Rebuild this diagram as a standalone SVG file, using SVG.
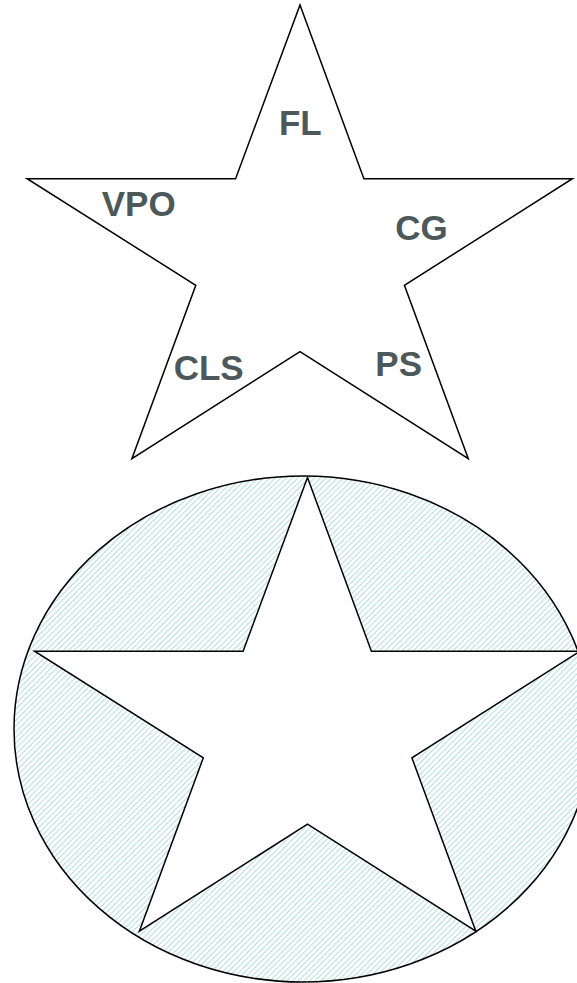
<svg xmlns="http://www.w3.org/2000/svg" width="577" height="983" viewBox="0 0 577 983">
<style>
.star{fill:#ffffff;stroke:#000000;stroke-width:1.5;stroke-linejoin:miter}
.lbl{font-family:"Liberation Sans",Arial,sans-serif;font-weight:bold;font-size:35px;fill:#4d585b;text-anchor:middle}
</style>
<defs>
<pattern id="hatch" patternUnits="userSpaceOnUse" width="4" height="4" patternTransform="rotate(45)">
<rect width="4" height="4" fill="#ffffff"/>
<line x1="0" y1="0" x2="0" y2="4" stroke="#b3dfe2" stroke-width="2"/>
</pattern>
<polygon id="starShape" points="300,5 363.9,178.7 572.4,178.7 404.4,285.3 468.3,458.7 300,351.7 131.9,458.7 195.8,285.3 27.1,178.7 235.6,178.7"/>
</defs>
<rect width="577" height="983" fill="#ffffff"/>
<g id="top-star">
<use href="#starShape" class="star"/>
<text class="lbl" x="300.3" y="135">FL</text>
<text class="lbl" x="138.7" y="216">VPO</text>
<text class="lbl" x="421.4" y="240">CG</text>
<text class="lbl" x="208.7" y="380">CLS</text>
<text class="lbl" x="398.7" y="376">PS</text>
</g>
<g id="circle-star">
<ellipse cx="303" cy="729" rx="289" ry="253" fill="url(#hatch)" stroke="#000000" stroke-width="1.5"/>
<use href="#starShape" class="star" transform="translate(7.5,472.5)"/>
</g>
</svg>
